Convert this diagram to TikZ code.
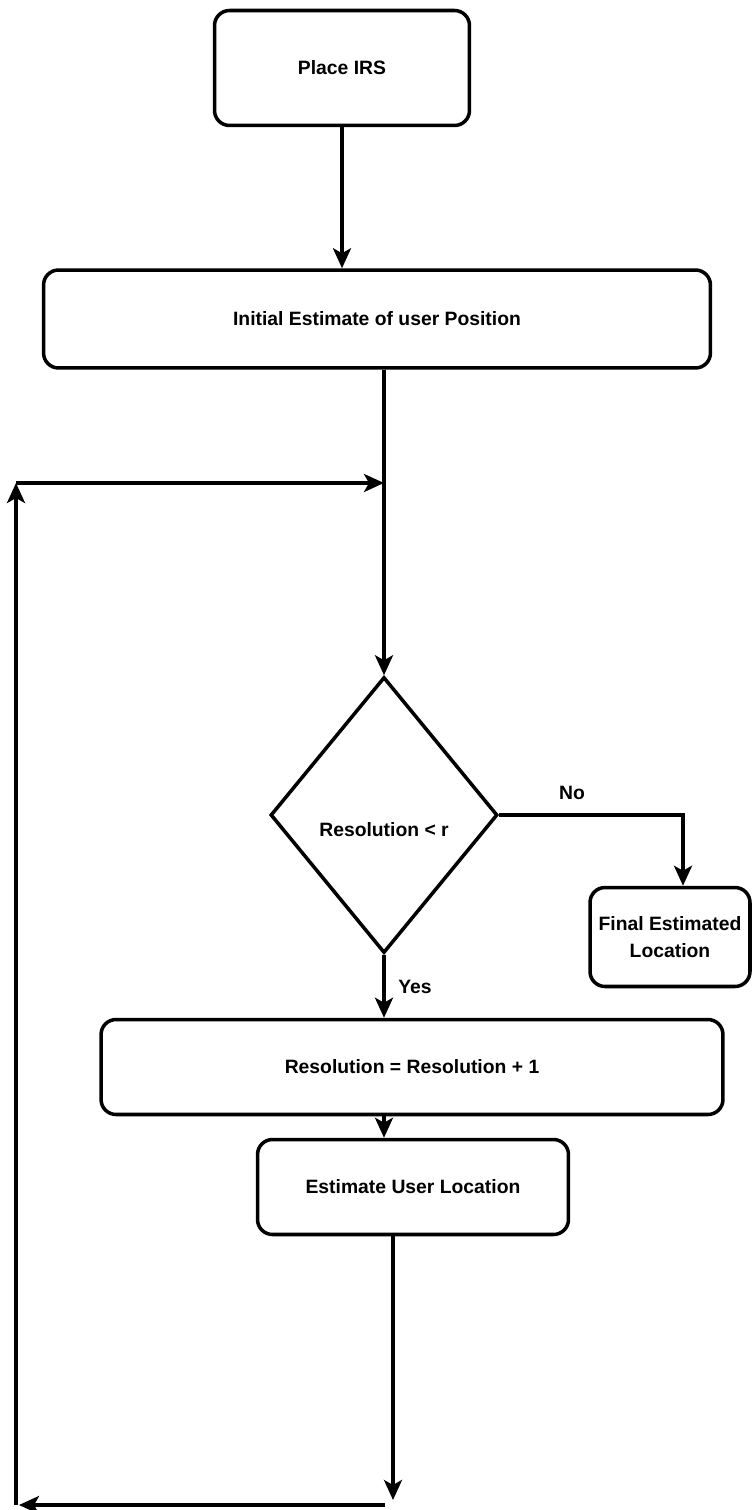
\documentclass[tikz,border=0pt]{standalone}
\usepackage{fontspec}
\setmainfont{Liberation Sans}
\usetikzlibrary{shapes.geometric,arrows.meta}
\begin{document}
\begin{tikzpicture}[x=0.02cm,y=-0.02cm,
  box/.style={draw,line width=2pt,rounded corners=0.3cm,align=center,font=\bfseries\fontsize{11}{15}\selectfont,inner sep=0pt},
  decision/.style={draw,diamond,line width=2pt,inner sep=0pt,minimum width=4.54cm,minimum height=5.52cm},
  conn/.style={line width=2pt},
  arr/.style={conn,-{Stealth[length=0.4cm,width=0.36cm,inset=0.1cm]}},
  lbl/.style={font=\bfseries\fontsize{11}{13}\selectfont}]
\useasboundingbox (0,0) rectangle (753,1510);
\node[box,minimum width=5.1cm,minimum height=2.3cm] (place) at (342,68) {Place IRS};
\node[box,minimum width=13.34cm,minimum height=1.96cm] (init) at (377,319) {Initial Estimate of user Position};
\node[decision,label={[lbl,yshift=-0.3cm]center:Resolution < r}] (dia) at (384,815) {};
\node[box,minimum width=3.2cm,minimum height=1.98cm] (final) at (670,937) {Final Estimated\\Location};
\node[box,minimum width=12.44cm,minimum height=1.9cm] (res) at (412,1067) {Resolution = Resolution + 1};
\node[box,minimum width=6.22cm,minimum height=1.9cm] (est) at (413,1187) {Estimate User Location};
\coordinate (merge) at (384,483);
\coordinate (tl) at (16,483);
\coordinate (bl) at (16,1505);
\coordinate (bdown) at (393,1500);
\coordinate (bstart) at (385,1505);
\coordinate (bend) at (19,1505);
\coordinate (noturn) at (683,815);
\coordinate (mid) at (384,1115);
\draw[arr] (place.south) -- (place.south |- init.north);
\draw[conn] (init.south -| merge) -- (merge);
\draw[arr] (merge) -- (dia.north);
\draw[arr] (tl) -- (merge);
\draw[arr] (dia.east) -- (noturn) -- (noturn |- final.north);
\node[lbl] (no) at (572,793) {No};
\draw[arr] (dia.south) -- (dia.south |- res.north);
\node[lbl] (yes) at (415,987) {Yes};
\draw[arr] (mid) -- (mid |- est.north);
\draw[arr] (est.south -| bdown) -- (bdown);
\draw[arr] (bstart) -- (bend);
\draw[arr] (bl) -- (tl);
\end{tikzpicture}
\end{document}
